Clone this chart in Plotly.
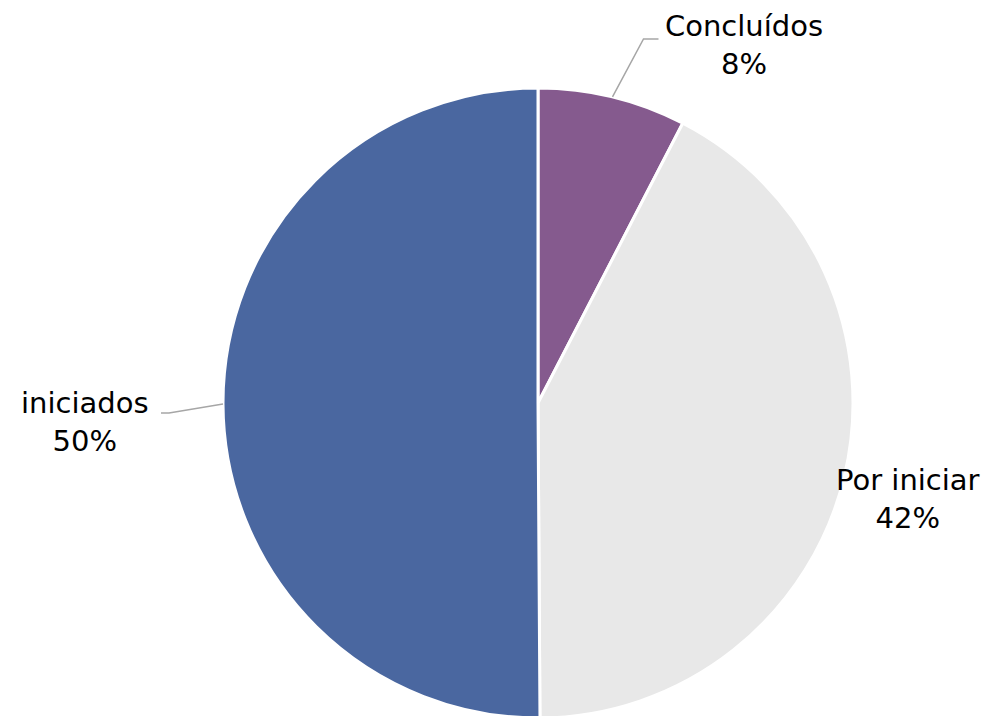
import math
import plotly.graph_objects as go

W, H = 989, 716
OFF = 8  # page body margin
labels = ["Concluídos", "Por iniciar", "iniciados"]
values = [7.6, 42.3, 50.1]
colors = ["#855A8E", "#E8E8E8", "#4A67A0"]

total = sum(values)
texts = [f"{l}<br>{round(v / total * 100)}%" for l, v in zip(labels, values)]

# pie geometry (figure pixels)
r = 315
cx, cy = 538 - OFF, 403 - OFF
dom_x = [(cx - r) / W, (cx + r) / W]
dom_y = [(H - (cy + r)) / H, (H - (cy - r)) / H]

fig = go.Figure(go.Pie(
    labels=labels, values=values, sort=False, direction="clockwise", rotation=0,
    marker=dict(colors=colors, line=dict(color="white", width=3)),
    textinfo="none", hoverinfo="label+percent", showlegend=False,
    domain=dict(x=dom_x, y=dom_y),
))

def px2paper(x, y):
    return x / W, 1 - y / H

label_pos = {"Concluídos": (744 - OFF, 45 - OFF), "Por iniciar": (908 - OFF, 499 - OFF),
             "iniciados": (85 - OFF, 422 - OFF)}
leader = {"Concluídos": [(31, -58), (46, -58)], "iniciados": [(-54, 9), (-62, 9)]}

shapes = []
annotations = []
cum = 0
for l, v, t in zip(labels, values, texts):
    mid = (cum + v / 2) / total * 2 * math.pi
    cum += v
    ex, ey = cx + r * math.sin(mid), cy - r * math.cos(mid)
    if l in leader:
        pts = [(ex, ey)] + [(ex + dx, ey + dy) for dx, dy in leader[l]]
        path = ""
        for i, (x, y) in enumerate(pts):
            px, py = px2paper(x, y)
            path += ("M" if i == 0 else "L") + f"{px},{py} "
        shapes.append(dict(type="path", xref="paper", yref="paper", path=path.strip(),
                           line=dict(color="#A6A6A6", width=1.5)))
    lx, ly = px2paper(*label_pos[l])
    annotations.append(dict(x=lx, y=ly, xref="paper", yref="paper", text=t, showarrow=False,
                            xanchor="center", yanchor="middle", align="center",
                            font=dict(size=29, color="#000000", family="DejaVu Sans")))

fig.update_layout(
    width=W, height=H, margin=dict(l=0, r=0, t=0, b=0),
    paper_bgcolor="white", plot_bgcolor="white",
    shapes=shapes, annotations=annotations,
)
fig.write_html("out.html")
